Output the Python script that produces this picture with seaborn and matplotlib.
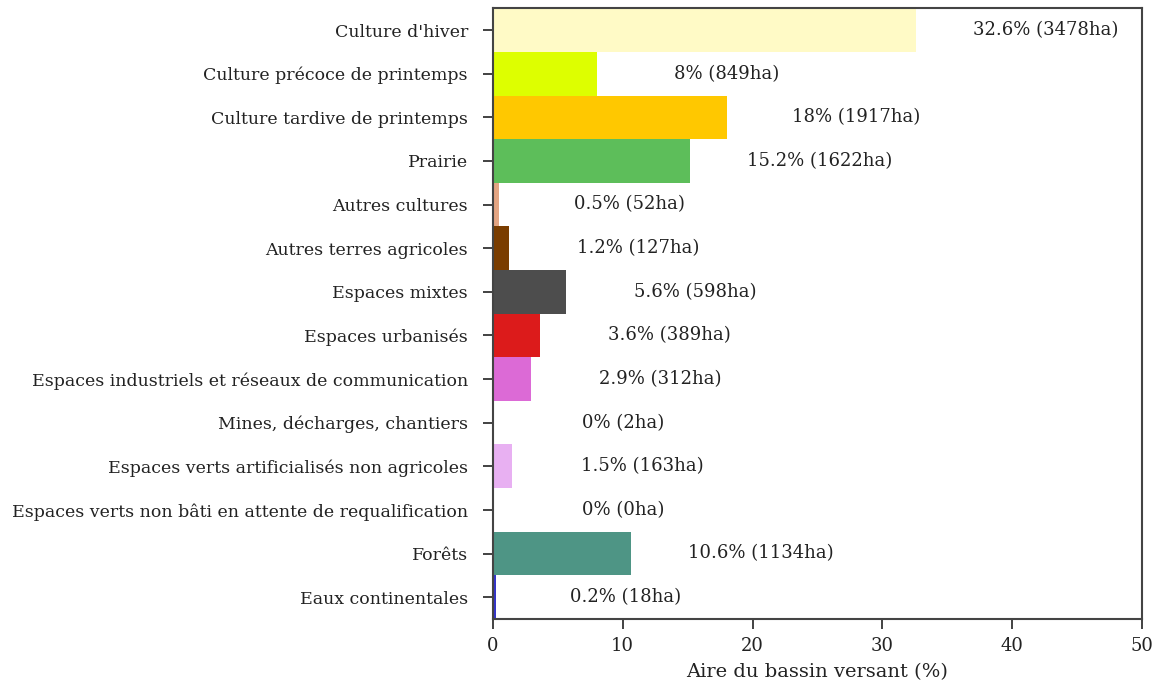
import matplotlib
matplotlib.use("Agg")
import matplotlib.pyplot as plt
import seaborn as sns
import pandas as pd

categories = ["Culture d'hiver", "Culture précoce de printemps", "Culture tardive de printemps",
              "Prairie", "Autres cultures", "Autres terres agricoles", "Espaces mixtes",
              "Espaces urbanisés", "Espaces industriels et réseaux de communication",
              "Mines, décharges, chantiers", "Espaces verts artificialisés non agricoles",
              "Espaces verts non bâti en attente de requalification", "Forêts", "Eaux continentales"]
percent = [32.6, 8, 18, 15.2, 0.5, 1.2, 5.6, 3.6, 2.9, 0, 1.5, 0, 10.6, 0.2]
hectares = [3478, 849, 1917, 1622, 52, 127, 598, 389, 312, 2, 163, 0, 1134, 18]
colors = ["#FFFAC6", "#DDFF00", "#FFC800", "#5DBE5A", "#E3A583", "#7A3D00", "#4D4D4D",
          "#DC1B1B", "#DC6AD6", "#B35A9C", "#E8B0F2", "#C0C0C0", "#4E9585", "#3535C8"]

sns.set_theme(style="white")
plt.rcParams['font.family'] = ['DejaVu Serif']

df = pd.DataFrame({"cat": categories, "pct": percent})
fig, ax = plt.subplots(figsize=(11.64, 6.90), dpi=100)
fig.subplots_adjust(left=0.4235, right=0.981, top=0.988, bottom=0.103)

sns.barplot(data=df, x="pct", y="cat", hue="cat", palette=colors, order=categories,
            hue_order=categories, width=1.0, dodge=False, legend=False, ax=ax,
            saturation=1, linewidth=0)

for i, (p, h) in enumerate(zip(percent, hectares)):
    txt = f"{p:g}% ({h}ha)"
    ax.text(p + 10, i, txt, ha="center", va="center", fontsize=13, color="#222222")

ax.set_xlim(0, 50)
ax.set_ylim(13.5, -0.5)
ax.set_xticks([0, 10, 20, 30, 40, 50])
ax.set_xlabel("Aire du bassin versant (%)", fontsize=14, color="#222222", labelpad=6)
ax.set_ylabel("")
ax.tick_params(axis="y", labelsize=12.5, colors="#222222", length=7, width=1.2, pad=11,
               left=True)
ax.tick_params(axis="x", labelsize=13, colors="#222222", length=7, width=1.2, pad=6,
               bottom=True)
for s in ax.spines.values():
    s.set_color("#444444")
    s.set_linewidth(1.5)

fig.savefig("out.png", dpi=100)
